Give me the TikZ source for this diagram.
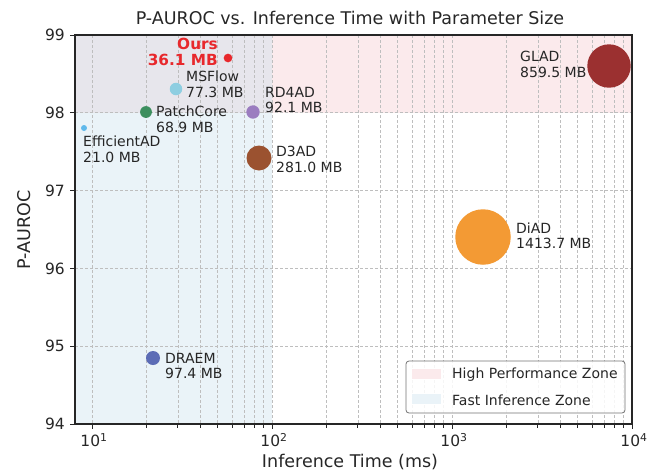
\documentclass[tikz,border=0pt]{standalone}
\usepackage{fontspec}
\setmainfont{DejaVu Sans}

% zone fills
\definecolor{zoneblue}{RGB}{234,243,248}
\definecolor{zonepink}{RGB}{251,234,236}
\definecolor{zonemix}{RGB}{231,230,236}
\definecolor{gridgray}{RGB}{190,190,190}
\definecolor{spinecol}{RGB}{38,38,38}
\definecolor{txtcol}{RGB}{38,38,38}
% marker colours
\definecolor{cOurs}{RGB}{232,40,44}
\definecolor{cMSFlow}{RGB}{142,206,225}
\definecolor{cPatch}{RGB}{60,143,94}
\definecolor{cRD}{RGB}{155,125,192}
\definecolor{cEff}{RGB}{95,185,235}
\definecolor{cD3}{RGB}{155,82,48}
\definecolor{cDiAD}{RGB}{243,154,52}
\definecolor{cGLAD}{RGB}{155,48,48}
\definecolor{cDRAEM}{RGB}{92,108,182}

\newcommand\ttlsize{\fontsize{17.5}{21}\selectfont}
\newcommand\ticksize{\fontsize{15.5}{18}\selectfont}
\newcommand\annsize{\fontsize{14}{15.5}\selectfont}
\newcommand\oursize{\fontsize{15.3}{16}\selectfont}

\tikzset{
  gridline/.style={gridgray, line width=0.7pt, dash pattern=on 3pt off 2pt},
  spine/.style={spinecol, line width=1.2pt},
  tickmark/.style={spinecol, line width=1pt},
  dot/.style={circle, inner sep=0pt, minimum size=#1, draw=none},
  lbl/.style={inner sep=0pt, align=left, anchor=west, text=txtcol, font=\annsize},
  ticklbl/.style={inner sep=0pt, text=txtcol, font=\ticksize},
  legpatch/.style={inner sep=0pt, minimum width=29pt, minimum height=10pt, draw=none},
}

\begin{document}
\begin{tikzpicture}[x=1pt, y=-1pt]
\useasboundingbox (0,0) rectangle (657,472);

% shaded zones: fast inference (left), high performance (top)
\fill[zoneblue] (75,35) rectangle (272,424);
\fill[zonepink] (272,35) rectangle (632,112.8);
\fill[zonemix] (75,35) rectangle (272,112.8);

% grid: log-spaced verticals, integer horizontals
\foreach \d in {1,2,3}{
  \foreach \m in {1,...,9}{
    \pgfmathsetmacro\gx{92+180*(\d-1+log10(\m))}
    \draw[gridline] (\gx,35) -- (\gx,424);
  }
}
\foreach \v in {95,96,97,98}{
  \draw[gridline] (75,{35+(99-\v)*77.8}) -- (632,{35+(99-\v)*77.8});
}

% minor x ticks
\foreach \d in {1,2,3}{
  \foreach \m in {2,...,9}{
    \pgfmathsetmacro\gx{92+180*(\d-1+log10(\m))}
    \draw[tickmark, line width=0.8pt] (\gx,424) -- (\gx,427.5);
  }
}
% major x ticks and labels
\foreach \e in {1,2,3,4}{
  \pgfmathsetmacro\gx{92+180*(\e-1)}
  \draw[tickmark] (\gx,424) -- (\gx,429);
  \node[ticklbl] (xt\e) at (\gx+2,440) {10\textsuperscript{\e}};
}
% y ticks and labels
\foreach \v in {94,...,99}{
  \pgfmathsetmacro\gy{35+(99-\v)*77.8}
  \draw[tickmark] (75,\gy) -- (70,\gy);
  \node[ticklbl, anchor=east] (yt\v) at (65,\gy) {\v};
}

% axes frame
\draw[spine] (75,35) rectangle (632,424);

% title and axis labels
\node[inner sep=0pt, text=txtcol, font=\ttlsize] (title) at (350,18) {P-AUROC vs. Inference Time with Parameter Size};
\node[inner sep=0pt, text=txtcol, font=\ttlsize] (xlab) at (350,462) {Inference Time (ms)};
\node[inner sep=0pt, text=txtcol, font=\ttlsize, rotate=90] (ylab) at (24,230) {P-AUROC};

% methods: marker area encodes parameter size
\node[dot=8.7pt,  fill=cOurs]   (ours)    at (228,58)  {};
\node[dot=12.5pt, fill=cMSFlow] (msflow)  at (176,89)  {};
\node[dot=11.8pt, fill=cPatch]  (patch)   at (146,112) {};
\node[dot=13.4pt, fill=cRD]     (rd4ad)   at (253,112) {};
\node[dot=6pt,    fill=cEff]    (eff)     at (84,128)  {};
\node[dot=25pt,   fill=cD3]     (d3ad)    at (259,158) {};
\node[dot=55.5pt, fill=cDiAD]   (diad)    at (483,237) {};
\node[dot=43.4pt, fill=cGLAD]   (glad)    at (609,66)  {};
\node[dot=14pt,   fill=cDRAEM]  (draem)   at (153,358) {};

% method labels
\node[lbl, anchor=east, align=right, text=cOurs, font=\oursize\bfseries] (oursL) at (218,52) {Ours\\36.1 MB};
\node[lbl] (msflowL) at (186,84.5)  {MSFlow\\77.3 MB};
\node[lbl] (patchL)  at (156,119.5) {PatchCore\\68.9 MB};
\node[lbl] (rd4adL)  at (265,100)   {RD4AD\\92.1 MB};
\node[lbl] (effL)    at (83,149.5)  {EfficientAD\\21.0 MB};
\node[lbl] (d3adL)   at (276,159.5) {D3AD\\281.0 MB};
\node[lbl] (diadL)   at (516,236)   {DiAD\\1413.7 MB};
\node[lbl] (gladL)   at (520,64.5)  {GLAD\\859.5 MB};
\node[lbl] (draemL)  at (165,366)   {DRAEM\\97.4 MB};

% legend
\node[draw=black!55, fill=white, fill opacity=0.85, rounded corners=3pt, line width=0.8pt,
      minimum width=219pt, minimum height=52pt, inner sep=0pt] (legend) at (515.5,387) {};
\node[legpatch, fill=zonepink] (legHP) at (426.5,374) {};
\node[legpatch, fill=zoneblue] (legFI) at (426.5,399) {};
\node[lbl] (legHPt) at (452,375) {High Performance Zone};
\node[lbl] (legFIt) at (452,400) {Fast Inference Zone};
\end{tikzpicture}
\end{document}
